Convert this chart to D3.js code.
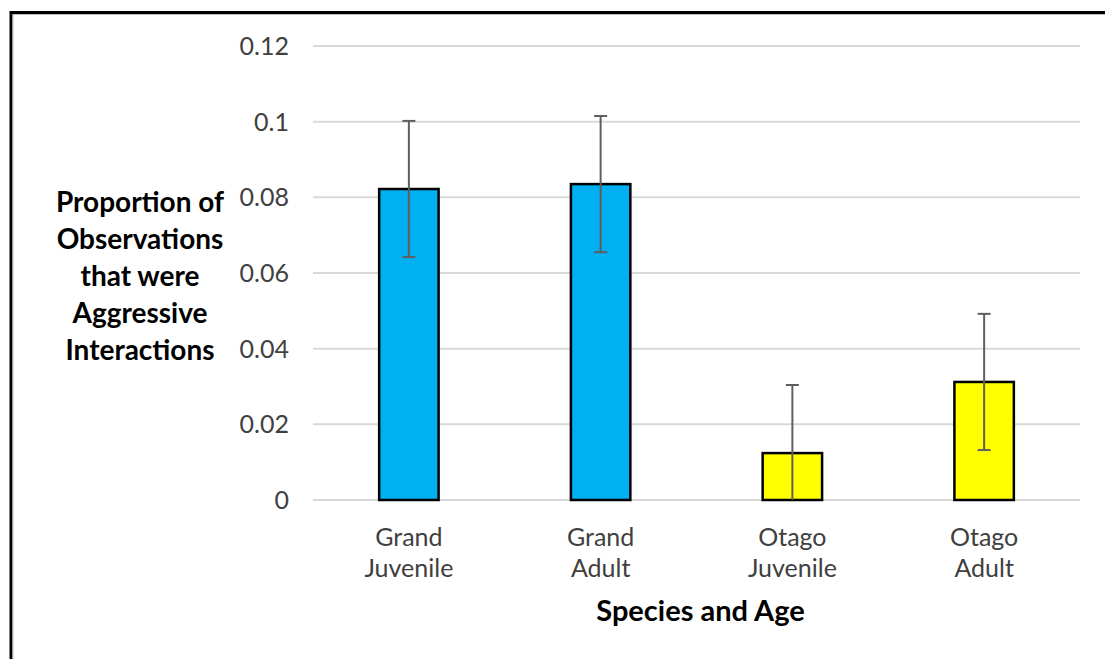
<!DOCTYPE html>
<html><head><meta charset="utf-8">
<script src="https://cdn.jsdelivr.net/npm/d3@7"></script>
<style>body{margin:0;background:#fff;} svg{display:block;}</style>
</head><body>
<svg id="c" width="1105" height="659"></svg>
<script>
const categories = [["Grand","Juvenile"],["Grand","Adult"],["Otago","Juvenile"],["Otago","Adult"]];
const values = [0.0822, 0.0835, 0.0124, 0.0312];
const errors = [0.018, 0.018, 0.018, 0.018];
const colors = ["#00b0f0","#00b0f0","#ffff00","#ffff00"];
const yTicks = [0, 0.02, 0.04, 0.06, 0.08, 0.1, 0.12];
const yTitle = ["Proportion of","Observations","that were","Aggressive","Interactions"];
const xTitle = "Species and Age";

const svg = d3.select("#c");
const font = "Lato, 'Open Sans', sans-serif";
const L = 313, R = 1080, T = 46, B = 500;

// frame
svg.append("path").attr("d","M11,670 L11,12.5 L1110,12.5").attr("fill","none").attr("stroke","#000").attr("stroke-width",3);
svg.append("path").attr("d","M13,670 L13,14.5 L1110,14.5").attr("fill","none").attr("stroke","#bbb").attr("stroke-width",1);

const x = d3.scaleBand().domain(d3.range(categories.length)).range([L,R]).paddingInner(0.69).paddingOuter(0.345);
const y = d3.scaleLinear().domain([0,0.12]).range([B,T]);

// gridlines
svg.append("g").selectAll("line").data(yTicks).join("line")
  .attr("x1",L).attr("x2",R).attr("y1",d=>y(d)).attr("y2",d=>y(d))
  .attr("stroke","#d9d9d9").attr("stroke-width",2);

// y tick labels
svg.append("g").selectAll("text").data(yTicks).join("text")
  .attr("x",289).attr("y",d=>y(d)).attr("dy","0.36em").attr("text-anchor","end")
  .attr("font-family",font).attr("font-size",25).attr("fill","#404040")
  .text(d=>d===0?"0":String(d));

svg.append("defs").append("clipPath").attr("id","pc").append("rect").attr("x",L).attr("y",T-20).attr("width",R-L).attr("height",B-T+20);

// bars
svg.append("g").selectAll("rect").data(values).join("rect")
  .attr("x",(d,i)=>x(i)).attr("width",x.bandwidth())
  .attr("y",d=>y(d)).attr("height",d=>B-y(d))
  .attr("fill",(d,i)=>colors[i]).attr("stroke","#000").attr("stroke-width",2.5);

// error bars
const eg = svg.append("g").attr("clip-path","url(#pc)");
values.forEach((v,i)=>{
  const cx = x(i)+x.bandwidth()/2;
  const lo = Math.max(0, v-errors[i]), hi = v+errors[i];
  eg.append("line").attr("x1",cx).attr("x2",cx).attr("y1",y(hi)).attr("y2",y(v-errors[i])).attr("stroke","#5f5f5f").attr("stroke-width",2);
  eg.append("line").attr("x1",cx-6.5).attr("x2",cx+6.5).attr("y1",y(hi)).attr("y2",y(hi)).attr("stroke","#5f5f5f").attr("stroke-width",2);
  if (v-errors[i] >= 0)
    eg.append("line").attr("x1",cx-6.5).attr("x2",cx+6.5).attr("y1",y(lo)).attr("y2",y(lo)).attr("stroke","#5f5f5f").attr("stroke-width",2);
});

// x labels
const xl = svg.append("g");
categories.forEach((c,i)=>{
  const cx = x(i)+x.bandwidth()/2;
  c.forEach((t,j)=>{
    xl.append("text").attr("x",cx).attr("y",546+j*31).attr("text-anchor","middle")
      .attr("font-family",font).attr("font-size",25).attr("fill","#404040").text(t);
  });
});

// x title
svg.append("text").attr("x",(L+R)/2+4).attr("y",621).attr("text-anchor","middle")
  .attr("font-family",font).attr("font-size",29).attr("font-weight","bold").attr("fill","#000").text(xTitle);

// y title
yTitle.forEach((t,j)=>{
  svg.append("text").attr("x",140).attr("y",212+j*37).attr("text-anchor","middle")
    .attr("font-family",font).attr("font-size",28).attr("font-weight","bold").attr("fill","#000").text(t);
});
</script>
</body></html>
